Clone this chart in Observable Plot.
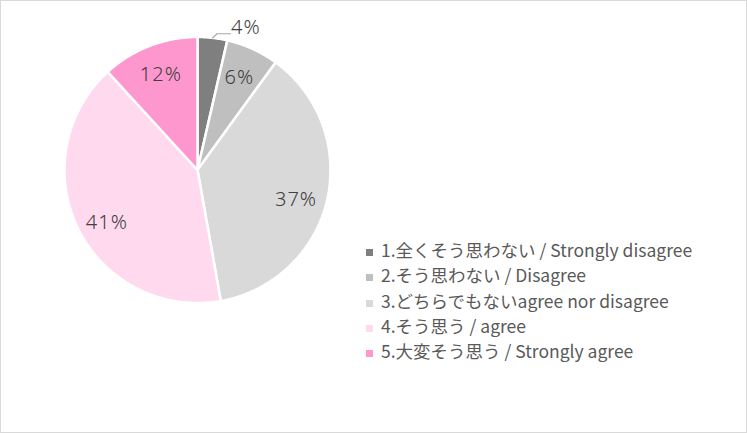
<!DOCTYPE html>
<html>
<head>
<meta charset="utf-8">
<script src="https://cdn.jsdelivr.net/npm/d3@7"></script>
<script src="https://cdn.jsdelivr.net/npm/@observablehq/plot@0.6"></script>
<style>
  html, body { margin: 0; padding: 0; background: #fff; }
  #wrap { position: relative; width: 747px; height: 433px; overflow: hidden; }
  #border { position: absolute; left: 0; top: 0; width: 745px; height: 431px; border: 1px solid #d9d9d9; pointer-events: none; }
  #legend { position: absolute; left: 366px; top: 237px; font-family: "Noto Sans CJK JP", "Noto Sans", sans-serif; font-size: 17.5px; color: #595959; }
  .row { height: 25.3px; line-height: 25.3px; white-space: nowrap; display: flex; align-items: center; }
  .sw { width: 7px; height: 7px; margin-right: 8px; margin-top: 6px; flex: none; }
</style>
</head>
<body>
<div id="wrap"><div id="chart"></div><div id="legend"></div><div id="border"></div></div>
<script>
const categories = [
  "1.全くそう思わない / Strongly disagree",
  "2.そう思わない / Disagree",
  "3.どちらでもないagree nor disagree",
  "4.そう思う / agree",
  "5.大変そう思う / Strongly agree"
];
const values = [3.6, 6.4, 37.2, 41.0, 11.8];
const labels = ["4%", "6%", "37%", "41%", "12%"];
const colors = ["#7f7f7f", "#bfbfbf", "#d9d9d9", "#ffd9ee", "#ff97cf"];

const arcs = d3.pie().sort(null).value(d => d)(values);

// polygon points for each slice (unit circle, y up, clockwise from 12 o'clock)
const slicePts = [];
arcs.forEach((a, i) => {
  const cat = categories[i];
  slicePts.push({cat, x: 0, y: 0});
  const n = Math.max(4, Math.ceil((a.endAngle - a.startAngle) / 0.01));
  for (let k = 0; k <= n; k++) {
    const t = a.startAngle + (a.endAngle - a.startAngle) * k / n;
    slicePts.push({cat, x: Math.sin(t), y: Math.cos(t)});
  }
  slicePts.push({cat, x: 0, y: 0});
});

// inside labels
const inLabels = arcs.map((a, i) => {
  const m = (a.startAngle + a.endAngle) / 2;
  return {label: labels[i], x: 0.76 * Math.sin(m), y: 0.81 * Math.cos(m) - 0.04, i};
}).filter(d => d.i !== 0);

// outside label with leader line for slice 1
const a0 = arcs[0];
const m0 = (a0.startAngle + a0.endAngle) / 2;
const elbowAng = m0 + 0.03;
const leader = [
  {x: Math.sin(m0), y: Math.cos(m0)},
  {x: 1.035 * Math.sin(elbowAng), y: 1.035 * Math.cos(elbowAng)},
  {x: 1.035 * Math.sin(elbowAng) + 0.1, y: 1.035 * Math.cos(elbowAng)}
];
const outLabel = [{label: labels[0], x: leader[2].x + 0.005, y: leader[2].y + 0.045}];

const font = "'Noto Sans', sans-serif";
const textOpts = {text: "label", fill: "#404040", fontSize: 20, fontWeight: 300, fontFamily: font, style: "letter-spacing:1px"};

const chart = Plot.plot({
  width: 747,
  height: 433,
  margin: 0,
  x: {domain: [-1, 1], range: [64, 330], axis: null},
  y: {domain: [-1, 1], range: [302.5, 36.5], axis: null},
  color: {domain: categories, range: colors},
  style: {background: "transparent"},
  marks: [
    Plot.line(slicePts, {x: "x", y: "y", z: "cat", fill: "cat", stroke: "white", strokeWidth: 2.5, strokeLinejoin: "miter"}),
    Plot.line(leader, {x: "x", y: "y", stroke: "#a6a6a6", strokeWidth: 1.2}),
    Plot.text(inLabels, {x: "x", y: "y", ...textOpts}),
    Plot.text(outLabel, {x: "x", y: "y", ...textOpts, textAnchor: "start"})
  ]
});
chart.querySelectorAll("text").forEach(t => t.style.letterSpacing = "1px");
document.getElementById("chart").appendChild(chart);

const legend = document.getElementById("legend");
categories.forEach((c, i) => {
  const row = document.createElement("div");
  row.className = "row";
  const sw = document.createElement("span");
  sw.className = "sw";
  sw.style.background = colors[i];
  const tx = document.createElement("span");
  tx.textContent = c;
  row.appendChild(sw);
  row.appendChild(tx);
  legend.appendChild(row);
});
</script>
</body>
</html>
